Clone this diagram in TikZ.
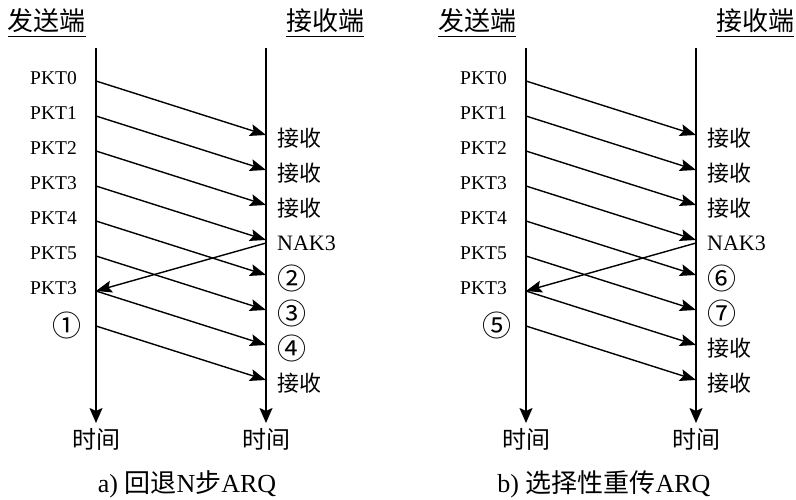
\documentclass[tikz,border=0pt]{standalone}
\usepackage{fontspec}
\setmainfont{Liberation Serif}
\newfontfamily\cjk{Noto Sans CJK SC}
\newcommand\circfont{\cjk\fontsize{29}{29}\selectfont}
\usetikzlibrary{arrows.meta}
\begin{document}
\begin{tikzpicture}[x=1pt,y=-1pt,
  axis/.style={line width=1.8pt,-{Stealth[length=15pt,width=13pt,inset=3pt]}},
  pkt/.style={line width=1.4pt,-{Stealth[length=16pt,width=12pt,inset=3pt]}},
  slab/.style={anchor=east,font=\fontsize{19.5}{19.5}\selectfont,inner sep=0pt},
  rlab/.style={anchor=west,font=\fontsize{22}{22}\selectfont,inner sep=0pt},
  cjklab/.style={font=\cjk\fontsize{24}{24}\selectfont,inner sep=0pt},
  circlab/.style={font=\circfont,inner sep=0pt},
  title/.style={font=\cjk\fontsize{26}{26}\selectfont,inner sep=0pt},
  caption/.style={font=\fontsize{26}{26}\selectfont,inner sep=0pt}]
\useasboundingbox (0,0) rectangle (796,499);
\foreach \p/\off/\circ/\rl in {a/0/①/{{\cjk 接收},{\cjk 接收},{\cjk 接收},NAK3,{\circfont ②},{\circfont ③},{\circfont ④},{\cjk 接收}},
                                b/430/⑤/{{\cjk 接收},{\cjk 接收},{\cjk 接收},NAK3,{\circfont ⑥},{\circfont ⑦},{\cjk 接收},{\cjk 接收}}}{
 \begin{scope}[shift={(\off,0)}]
  % titles
  \node[title] (\p-st) at (47,21) {发送端};
  \node[title] (\p-rt) at (325,21) {接收端};
  \draw[line width=0.9pt] ([yshift=-3pt]\p-st.south west) -- ([yshift=-3pt]\p-st.south east);
  \draw[line width=0.9pt] ([yshift=-3pt]\p-rt.south west) -- ([yshift=-3pt]\p-rt.south east);
  % time axes
  \coordinate (\p-stop) at (96,48);
  \coordinate (\p-sbot) at (96,423);
  \coordinate (\p-rtop) at (266,48);
  \coordinate (\p-rbot) at (266,423);
  \draw[axis] (\p-stop) -- (\p-sbot);
  \draw[axis] (\p-rtop) -- (\p-rbot);
  \node[cjklab] (\p-tl) at (96,439) {时间};
  \node[cjklab] (\p-tr) at (266,439) {时间};
  % packets
  \foreach \i in {0,...,7}{
    \coordinate (\p-s\i) at (96,{81+35*\i});
    \coordinate (\p-r\i) at (266,{135+35*\i});
    \draw[pkt] (\p-s\i) -- (\p-r\i);
  }
  \foreach \i/\lab in {0/PKT0,1/PKT1,2/PKT2,3/PKT3,4/PKT4,5/PKT5,6/PKT3}{
    \node[slab] (\p-sl\i) at (77,{78+35*\i}) {\lab};
  }
  \node[circlab] (\p-sl7) at (67,325) {\circ};
  \foreach \lab [count=\k from 0] in \rl {
    \node[rlab] (\p-rl\k) at (277,{138+35*\k}) {\lab};
  }
  % NAK
  \coordinate (\p-nak) at (266,243);
  \draw[pkt] (\p-nak) -- (\p-s6);
 \end{scope}
}
\node[caption] (capa) at (187,484) {a) {\cjk 回退}N{\cjk 步}ARQ};
\node[caption] (capb) at (604,484) {b) {\cjk 选择性重传}ARQ};
\end{tikzpicture}
\end{document}
